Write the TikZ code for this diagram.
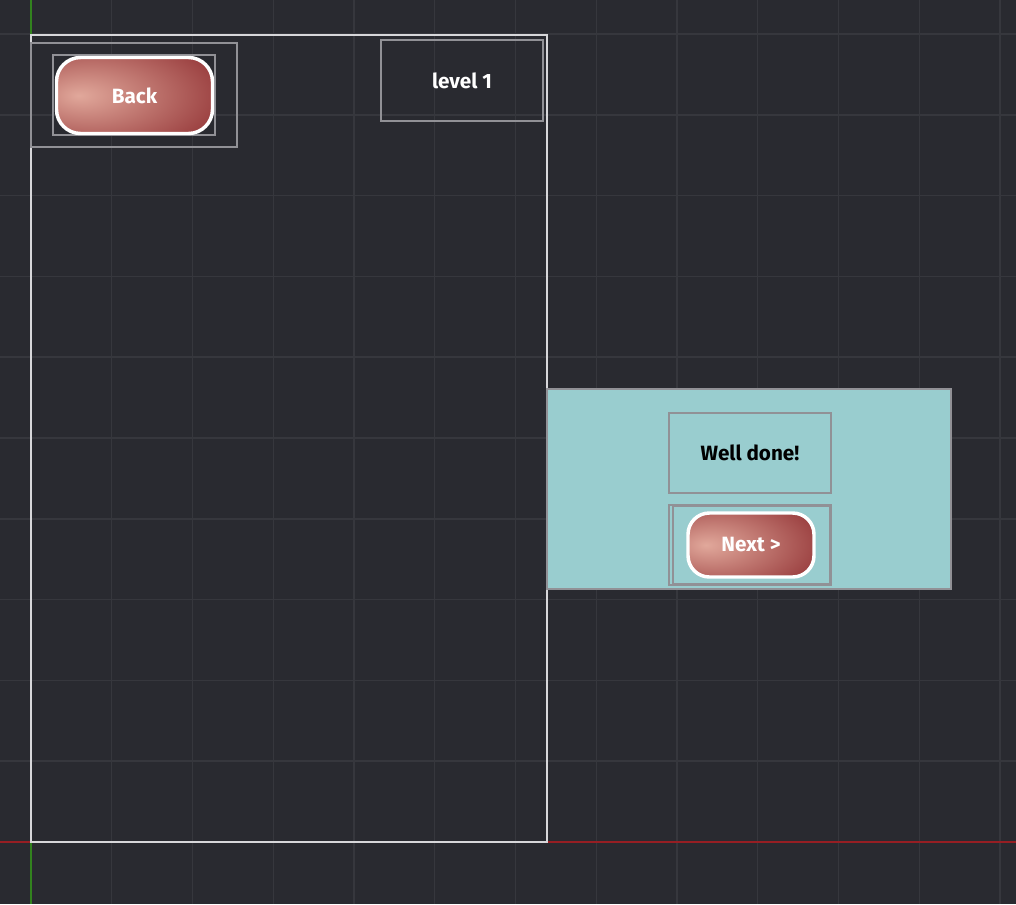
\documentclass[tikz,border=0pt]{standalone}
\usepackage{fontspec}
\setmainfont{Fira Sans}
\definecolor{bg}{RGB}{41,42,48}
\definecolor{gridc}{RGB}{54,55,61}
\definecolor{axisx}{RGB}{150,30,35}
\definecolor{axisy}{RGB}{50,130,30}
\definecolor{framec}{RGB}{215,215,218}
\definecolor{boxc}{RGB}{145,145,150}
\definecolor{panelc}{RGB}{153,205,207}
\definecolor{pinkc}{RGB}{225,168,155}
\definecolor{redc}{RGB}{136,36,40}
\pgfdeclareradialshading{btnshade}{\pgfpoint{-18bp}{0bp}}{color(0bp)=(pinkc); color(50bp)=(redc); color(100bp)=(redc)}
\begin{document}
\begin{tikzpicture}[x=0.75pt,y=-0.75pt,
  gridline/.style={draw=gridc, line width=1.1pt},
  mainframe/.style={draw=framec, line width=1.6pt},
  wbox/.style={draw=boxc, line width=1.1pt, rectangle, inner sep=0pt},
  btnbox/.style={draw=white, line width=2.6pt, rectangle, rounded corners=#1, shading=btnshade, text=white, inner sep=0pt, font=\fontsize{15.5}{18}\selectfont\bfseries},
  lbl/.style={font=\fontsize{15.5}{18}\selectfont\bfseries}]
\useasboundingbox (0,0) rectangle (1016,904);
\fill[bg] (0,0) rectangle (1016,904);
% grid
\foreach \k in {1,...,12} {
  \pgfmathsetmacro{\gx}{31+80.75*\k}
  \draw[gridline] (\gx,0) -- (\gx,904);
}
\foreach \k in {1,...,10} {
  \pgfmathsetmacro{\gy}{842-80.8*\k}
  \draw[gridline] (0,\gy) -- (1016,\gy);
}
% axes
\coordinate (xl) at (0,842);
\coordinate (xr) at (1016,842);
\coordinate (yt) at (31,0);
\coordinate (yb) at (31,904);
\draw[axisx, line width=1.3pt] (xl) -- (xr);
\draw[axisy, line width=1.3pt] (yt) -- (yb);
% main frame
\node[mainframe, rectangle, inner sep=0pt, minimum width=387pt, minimum height=605.25pt] (frame) at (289,438.5) {};
% back
\node[wbox, minimum width=154.5pt, minimum height=78pt] (backouter) at (134,95) {};
\node[wbox, minimum width=121.5pt, minimum height=60pt] (backinner) at (134,95) {};
\node[btnbox=18pt, minimum width=117pt, minimum height=57pt] (back) at (134.5,95.5) {Back};
% level
\node[wbox, lbl, minimum width=121.5pt, minimum height=60.75pt, text=white] (level) at (462,80.5) {level 1};
% panel
\node[wbox, fill=panelc, minimum width=303pt, minimum height=150pt] (panel) at (749,489) {};
\node[wbox, lbl, minimum width=121.5pt, minimum height=60pt, text=black] (welldone) at (750,453) {Well done!};
\node[wbox, minimum width=121.5pt, minimum height=60pt] (nextouter) at (750,545) {};
\node[wbox, minimum width=117.75pt, minimum height=58.5pt] (nextinner) at (751.5,545) {};
\node[btnbox=16pt, minimum width=94.5pt, minimum height=48pt] (next) at (751,545) {Next >};
\end{tikzpicture}
\end{document}
